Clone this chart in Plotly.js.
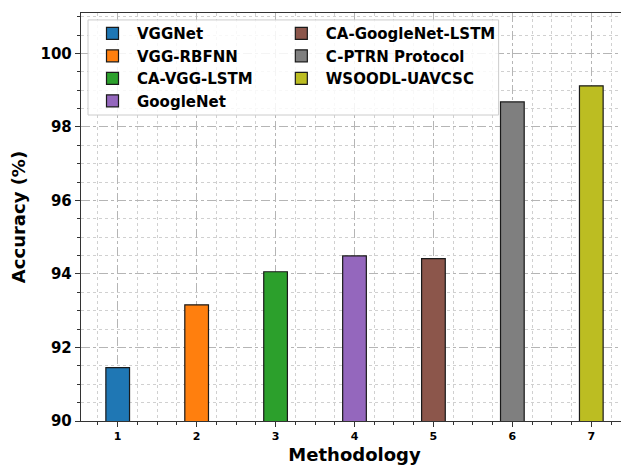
<!DOCTYPE html>
<html>
<head>
<meta charset="utf-8">
<script src="https://cdn.plot.ly/plotly-3.0.1.min.js"></script>
<style>html,body{margin:0;padding:0;overflow:hidden;background:#fff;}</style>
</head>
<body>
<div id="chart"></div>
<script>
const methods = ["VGGNet", "VGG-RBFNN", "CA-VGG-LSTM", "GoogleNet", "CA-GoogleNet-LSTM", "C-PTRN Protocol", "WSOODL-UAVCSC"];
const positions = [1, 2, 3, 4, 5, 6, 7];
const accuracy = [91.45, 93.16, 94.06, 94.49, 94.42, 98.68, 99.12];
const colors = ["#1f77b4", "#ff7f0e", "#2ca02c", "#9467bd", "#8c564b", "#7f7f7f", "#bcbd22"];
const tickLabels = ["1", "2", "3", "4", "5", "6", "7"];
// legend column of each method (first four in column 1, rest in column 2)
const legendColumn = ["legend", "legend", "legend", "legend", "legend2", "legend2", "legend2"];

const font = "DejaVu Sans, sans-serif";
const traces = methods.map((m, i) => ({
  type: "bar",
  x: [positions[i]],
  y: [accuracy[i]],
  name: m,
  legend: legendColumn[i],
  legendgroup: "g" + i,
  width: 0.3,
  marker: {color: colors[i], line: {color: "#1a1a1a", width: 1.2}},
  hoverinfo: "x+y"
}));

const legendCommon = {
  xanchor: "left", yanchor: "top",
  bgcolor: "rgba(0,0,0,0)", borderwidth: 0,
  font: {family: font, size: 15, weight: "bold", color: "#000"},
  itemwidth: 39, tracegroupgap: 2, traceorder: "normal"
};

const layout = {
  width: 632, height: 466,
  margin: {l: 81, r: 3.5, t: 13, b: 45},
  paper_bgcolor: "#fff", plot_bgcolor: "#fff",
  barmode: "overlay",
  font: {family: font, color: "#000"},
  xaxis: {
    range: [0.535, 7.465],
    tickvals: positions, ticktext: tickLabels,
    tickfont: {family: font, size: 11, weight: "bold"},
    ticks: "outside", ticklen: 5, tickwidth: 1, tickcolor: "#333",
    showline: true, linecolor: "#333", linewidth: 1.2, mirror: true,
    showgrid: true, gridcolor: "#b5b5b5", griddash: "dashdot", gridwidth: 1,
    zeroline: false,
    minor: {dtick: 0.25, tick0: 0, showgrid: true, gridcolor: "#d0d0d0", griddash: "dot", gridwidth: 1,
            ticks: "outside", ticklen: 3, tickcolor: "#333"},
    title: {text: "Methodology", font: {family: font, size: 18, weight: "bold"}, standoff: 6}
  },
  yaxis: {
    range: [90, 101.1],
    dtick: 2, tick0: 90,
    tickfont: {family: font, size: 15, weight: "bold"},
    ticks: "outside", ticklen: 5, tickwidth: 1, tickcolor: "#333",
    showline: true, linecolor: "#333", linewidth: 1.2, mirror: true,
    showgrid: true, gridcolor: "#b5b5b5", griddash: "dashdot", gridwidth: 1,
    zeroline: false,
    minor: {dtick: 0.5, showgrid: true, gridcolor: "#d0d0d0", griddash: "dot", gridwidth: 1,
            ticks: "outside", ticklen: 3, tickcolor: "#333"},
    title: {text: "Accuracy (%)", font: {family: font, size: 18, weight: "bold"}, standoff: 10}
  },
  showlegend: true,
  legend: Object.assign({x: 0.0128, y: 0.99}, legendCommon),
  legend2: Object.assign({x: 0.358, y: 0.99}, legendCommon),
  shapes: [{
    type: "rect", xref: "paper", yref: "paper", layer: "above",
    x0: 0.0128, x1: 0.7635, y0: 0.75, y1: 0.983,
    fillcolor: "rgba(255,255,255,0.85)", line: {color: "#cccccc", width: 1}
  }]
};

Plotly.newPlot("chart", traces, layout, {displayModeBar: false, staticPlot: true});
</script>
</body>
</html>
